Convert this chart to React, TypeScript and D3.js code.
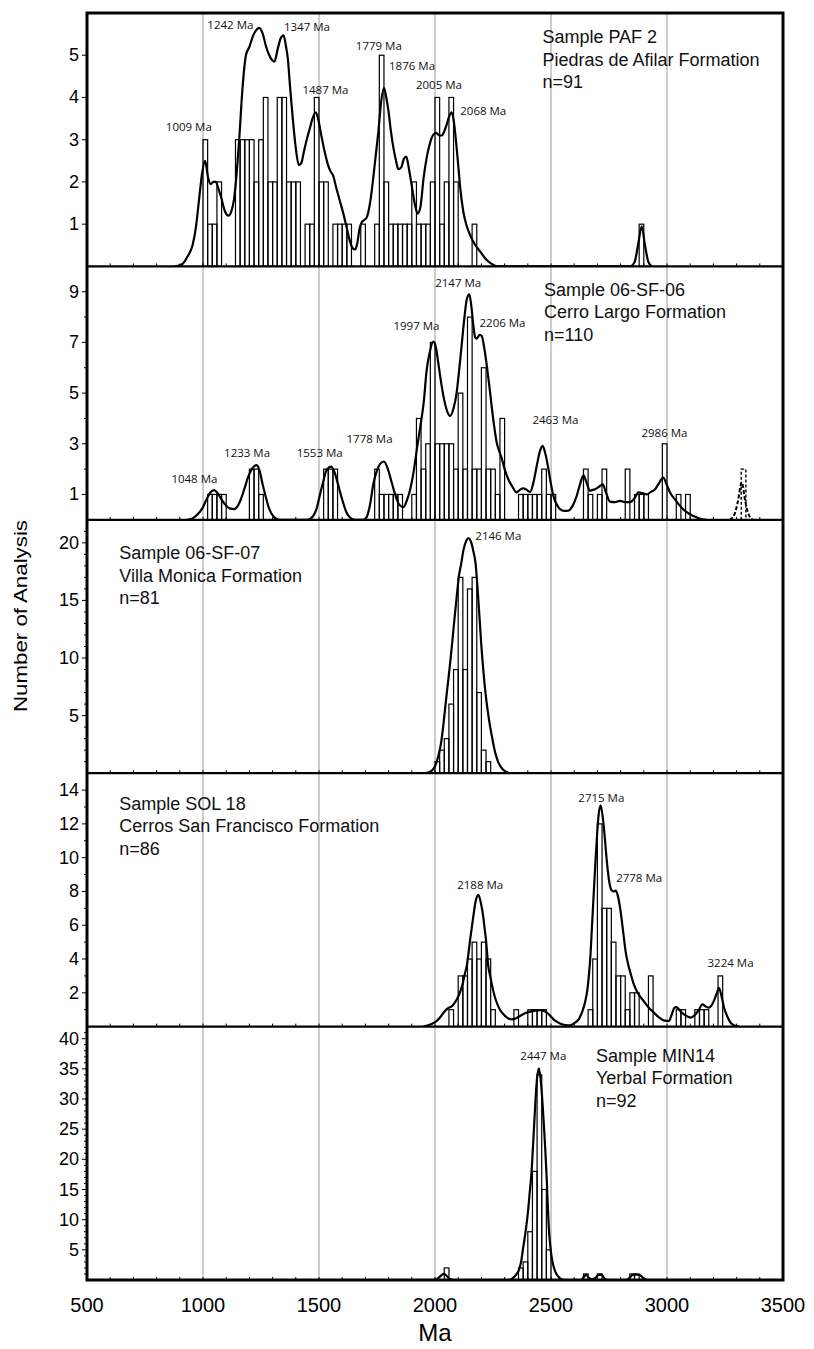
import React from 'react';
import * as d3 from 'd3';

// ---- data ----
const BIN = 20; // Ma per histogram bar

const sampleNames = ['Sample PAF 2', 'Sample 06-SF-06', 'Sample 06-SF-07', 'Sample SOL 18', 'Sample MIN14'];
const formations = [
  'Piedras de Afilar Formation',
  'Cerro Largo Formation',
  'Villa Monica Formation',
  'Cerros San Francisco Formation',
  'Yerbal Formation',
];
const sampleSizes = [91, 110, 81, 86, 92];
const yMaxes = [6, 10, 22, 15, 42];
const yLabelTicks = [
  [1, 2, 3, 4, 5],
  [1, 3, 5, 7, 9],
  [5, 10, 15, 20],
  [2, 4, 6, 8, 10, 12, 14],
  [5, 10, 15, 20, 25, 30, 35, 40],
];
const xTickLabels = [500, 1000, 1500, 2000, 2500, 3000, 3500];
const gridAges = [1000, 1500, 2000, 2500, 3000];

// histogram bars: [bin start (Ma), count]
const barsPAF2 = [
  [1000, 3], [1020, 1], [1040, 1], [1060, 2],
  [1140, 3], [1160, 3], [1180, 3], [1200, 3], [1220, 2], [1240, 3], [1260, 4], [1280, 2], [1300, 2],
  [1320, 4], [1340, 4], [1360, 2], [1380, 2], [1400, 2], [1440, 1], [1460, 1], [1480, 4], [1500, 2],
  [1520, 2], [1560, 1], [1580, 1], [1600, 1], [1620, 1], [1680, 1], [1740, 1], [1760, 5], [1780, 2],
  [1800, 1], [1820, 1], [1840, 1], [1860, 1], [1880, 1], [1900, 2], [1920, 1], [1940, 1], [1960, 1],
  [1980, 2], [2000, 4], [2020, 1], [2040, 2], [2060, 4], [2080, 2], [2160, 1], [2880, 1],
];
const bars06SF06 = [
  [1020, 1], [1040, 1], [1060, 1], [1080, 1],
  [1200, 2], [1220, 2], [1240, 1],
  [1520, 2], [1540, 2], [1560, 2],
  [1740, 2], [1760, 1], [1780, 1], [1800, 1], [1820, 1], [1840, 1],
  [1900, 1], [1920, 4], [1940, 2], [1960, 3], [1980, 7], [2000, 3], [2020, 3], [2040, 3], [2060, 3],
  [2080, 2], [2100, 5], [2120, 2], [2140, 8], [2160, 2], [2180, 2], [2200, 6], [2220, 2], [2240, 2],
  [2260, 1], [2280, 4],
  [2360, 1], [2380, 1], [2400, 1], [2420, 1], [2440, 1], [2460, 2], [2480, 1], [2500, 1],
  [2640, 2], [2660, 1], [2700, 1], [2720, 2], [2820, 2], [2860, 1], [2880, 1], [2900, 1], [2980, 3],
  [3040, 1], [3080, 1],
];
const bars06SF06Dashed = [[3320, 2]];
const bars06SF07 = [
  [2000, 1], [2020, 2], [2040, 3], [2060, 6], [2080, 9], [2100, 17], [2120, 9], [2140, 16],
  [2160, 17], [2180, 7], [2200, 2], [2220, 1],
];
const barsSOL18 = [
  [2060, 1], [2100, 3], [2120, 3], [2140, 4], [2160, 5], [2180, 4], [2200, 5], [2220, 4], [2240, 1],
  [2340, 1], [2400, 1], [2420, 1], [2440, 1], [2460, 1],
  [2660, 1], [2680, 4], [2700, 12], [2720, 7], [2740, 7], [2760, 5], [2780, 3], [2800, 3], [2820, 1],
  [2840, 2], [2860, 2], [2920, 3], [3040, 1], [3060, 1], [3120, 1], [3140, 1], [3160, 1], [3220, 3],
];
const barsMIN14 = [
  [2040, 2], [2360, 2], [2380, 3], [2400, 8], [2420, 18], [2440, 34], [2460, 15], [2480, 5],
  [2640, 1], [2700, 1], [2840, 1], [2860, 1],
];

// probability density curves: [Ma, value]
const curvePAF2 = [
  [880, 0], [910, 0.05], [935, 0.25], [955, 0.5], [970, 0.95], [983, 1.58], [996, 2.2], [1009, 2.5],
  [1022, 2.1], [1033, 1.95], [1045, 2.0], [1055, 2.0], [1066, 1.85], [1077, 1.66], [1095, 1.3],
  [1110, 1.2], [1122, 1.3], [1134, 1.6], [1145, 2.2], [1156, 3.0], [1170, 4.2], [1185, 5.0],
  [1200, 5.2], [1215, 5.45], [1243, 5.65], [1258, 5.5], [1272, 5.2], [1290, 4.95], [1308, 4.85],
  [1322, 5.15], [1335, 5.4], [1347, 5.47], [1358, 5.2], [1366, 4.9], [1376, 4.2], [1387, 3.5],
  [1400, 2.8], [1413, 2.4], [1424, 2.45], [1434, 2.69], [1447, 3.0], [1459, 3.24], [1472, 3.5],
  [1486, 3.65], [1498, 3.45], [1510, 3.1], [1525, 2.7], [1539, 2.4], [1550, 2.25], [1561, 2.15],
  [1575, 1.85], [1590, 1.55], [1605, 1.25], [1618, 0.95], [1633, 0.6], [1647, 0.42], [1656, 0.4],
  [1665, 0.55], [1675, 0.9], [1685, 1.05], [1695, 1.1], [1705, 1.15], [1720, 1.5], [1734, 2.1],
  [1746, 2.7], [1756, 3.2], [1768, 3.9], [1780, 4.23], [1790, 4.0], [1799, 3.7], [1810, 3.2],
  [1821, 2.8], [1832, 2.5], [1842, 2.3], [1855, 2.35], [1866, 2.55], [1876, 2.6], [1888, 2.3],
  [1900, 1.9], [1912, 1.5], [1925, 1.25], [1937, 1.4], [1951, 2.1], [1965, 2.6], [1980, 2.95],
  [1993, 3.12], [2006, 3.16], [2018, 3.1], [2029, 3.1], [2040, 3.2], [2050, 3.35], [2061, 3.55],
  [2072, 3.65], [2082, 3.4], [2090, 3.0], [2100, 2.4], [2108, 1.9], [2122, 1.3], [2137, 0.95],
  [2155, 0.7], [2172, 0.52], [2195, 0.35], [2223, 0.15], [2250, 0.04], [2270, 0],
  [2840, 0], [2860, 0.1], [2875, 0.5], [2891, 0.95], [2905, 0.5], [2920, 0.1], [2935, 0],
];
const curve06SF06 = [
  [930, 0], [954, 0.05], [975, 0.2], [997, 0.45], [1015, 0.8], [1032, 1.08], [1048, 1.17], [1063, 1.05],
  [1080, 0.8], [1098, 0.58], [1115, 0.45], [1134, 0.42], [1150, 0.55], [1165, 0.85], [1178, 1.21],
  [1195, 1.7], [1214, 2.05], [1231, 2.16], [1245, 1.9], [1257, 1.4], [1272, 0.85], [1286, 0.42],
  [1305, 0.12], [1329, 0],
  [1450, 0], [1475, 0.15], [1490, 0.45], [1503, 0.95], [1518, 1.5], [1532, 1.95], [1553, 2.1],
  [1568, 1.85], [1582, 1.4], [1600, 0.8], [1618, 0.3], [1635, 0.08], [1655, 0],
  [1690, 0], [1705, 0.1], [1720, 0.6], [1734, 1.4], [1750, 1.95], [1763, 2.2], [1780, 2.3],
  [1797, 2.0], [1814, 1.45], [1830, 0.95], [1847, 0.58], [1864, 0.5], [1880, 0.8], [1893, 1.2],
  [1908, 1.9], [1922, 2.8], [1937, 3.7], [1951, 4.6], [1964, 5.9], [1977, 6.6], [1993, 7.03],
  [2004, 6.8], [2014, 6.2], [2025, 5.5], [2036, 4.9], [2050, 4.35], [2065, 4.1], [2080, 4.4],
  [2093, 5.0], [2104, 5.9], [2115, 6.9], [2127, 8.0], [2137, 8.7], [2148, 8.9], [2157, 8.4],
  [2165, 7.7], [2173, 7.2], [2180, 7.15], [2192, 7.3], [2201, 7.26], [2212, 6.8], [2223, 6.1],
  [2234, 5.3], [2244, 4.5], [2255, 3.7], [2266, 3.05], [2277, 2.7], [2287, 2.45], [2300, 2.0],
  [2316, 1.6], [2334, 1.3], [2352, 1.08], [2366, 1.18], [2381, 1.24], [2396, 1.18], [2410, 1.1],
  [2425, 1.5], [2438, 2.1], [2452, 2.7], [2464, 2.92], [2476, 2.6], [2489, 2.0], [2500, 1.4],
  [2510, 0.95], [2525, 0.6], [2539, 0.42], [2557, 0.35], [2575, 0.36], [2593, 0.55], [2611, 0.95],
  [2625, 1.4], [2640, 1.75], [2654, 1.45], [2668, 1.14], [2680, 1.18], [2690, 1.21], [2706, 1.3],
  [2723, 1.4], [2738, 1.05], [2754, 0.72], [2775, 0.7], [2797, 0.75], [2820, 0.7], [2841, 0.7],
  [2860, 0.85], [2877, 1.08], [2895, 1.05], [2913, 1.0], [2930, 1.1], [2948, 1.2], [2966, 1.45],
  [2984, 1.67], [2998, 1.4], [3013, 1.08], [3035, 0.8], [3056, 0.55], [3085, 0.3], [3114, 0.15],
  [3140, 0.05], [3171, 0],
];
const curve06SF06Dashed = [
  [3270, 0], [3290, 0.2], [3305, 0.7], [3322, 1.47], [3338, 0.7], [3352, 0.2], [3370, 0],
];
const curve06SF07 = [
  [1960, 0], [1985, 0.2], [2000, 0.6], [2013, 1.4], [2026, 2.6], [2035, 4.0], [2043, 5.5], [2051, 7.0],
  [2059, 8.4], [2067, 9.9], [2074, 11.3], [2081, 12.8], [2088, 14.2], [2096, 15.8], [2103, 17.1],
  [2113, 18.2], [2122, 19.3], [2133, 20.1], [2144, 20.4], [2155, 20.1], [2165, 19.3], [2175, 18.2],
  [2185, 15.6], [2192, 13.5], [2199, 11.3], [2208, 9.0], [2218, 6.9], [2228, 5.3], [2238, 4.0],
  [2248, 2.9], [2257, 2.0], [2270, 1.1], [2285, 0.5], [2300, 0.2], [2320, 0],
];
const curveSOL18 = [
  [1950, 0], [1985, 0.15], [2007, 0.33], [2025, 0.6], [2043, 0.93], [2058, 1.1], [2072, 1.2],
  [2087, 1.45], [2101, 1.8], [2112, 2.2], [2122, 2.7], [2130, 3.2], [2137, 3.6], [2144, 4.3],
  [2151, 5.1], [2158, 5.8], [2165, 6.5], [2175, 7.4], [2187, 7.8], [2198, 7.3], [2208, 6.5],
  [2214, 5.8], [2220, 5.1], [2225, 4.3], [2230, 3.55], [2238, 3.0], [2245, 2.5], [2255, 1.9],
  [2264, 1.5], [2280, 1.0], [2295, 0.73], [2312, 0.52], [2331, 0.43], [2350, 0.5], [2367, 0.63],
  [2390, 0.8], [2410, 0.89], [2432, 0.95], [2454, 0.97], [2470, 0.92], [2482, 0.83], [2496, 0.65],
  [2511, 0.43], [2530, 0.25], [2547, 0.14], [2565, 0.09], [2583, 0.08], [2600, 0.2], [2619, 0.43],
  [2634, 0.85], [2648, 1.52], [2657, 2.2], [2665, 3.3], [2670, 4.2], [2675, 5.5], [2680, 6.8],
  [2685, 8.1], [2691, 9.6], [2697, 11.0], [2705, 12.5], [2714, 13.1], [2724, 12.3], [2733, 11.0],
  [2742, 9.6], [2752, 8.5], [2760, 8.1], [2770, 8.0], [2779, 8.05], [2787, 7.8], [2797, 7.1],
  [2805, 6.3], [2812, 5.5], [2821, 4.5], [2829, 3.9], [2844, 3.1], [2857, 2.5], [2878, 1.9],
  [2900, 1.5], [2920, 1.15], [2943, 0.83], [2965, 0.55], [2986, 0.37], [3008, 0.33], [3020, 0.7],
  [3032, 1.12], [3042, 1.15], [3051, 1.02], [3062, 0.85], [3073, 0.73], [3088, 0.6], [3102, 0.53],
  [3113, 0.6], [3123, 0.73], [3138, 1.0], [3152, 1.32], [3166, 1.2], [3181, 1.12], [3192, 1.25],
  [3202, 1.52], [3214, 1.95], [3224, 2.3], [3235, 1.8], [3246, 1.12], [3260, 0.6], [3274, 0.24],
  [3290, 0.07], [3310, 0],
];
const curveMIN14 = [
  [1990, 0], [2010, 0.2], [2025, 0.7], [2038, 1.0], [2050, 0.7], [2062, 0.2], [2080, 0],
  [2320, 0], [2335, 0.3], [2350, 0.9], [2363, 1.8], [2372, 3.2], [2381, 5.6], [2389, 7.6],
  [2397, 10.0], [2403, 12.2], [2408, 14.4], [2413, 16.4], [2418, 19.0], [2422, 21.9], [2427, 25.4],
  [2432, 29.0], [2440, 33.5], [2448, 35.1], [2456, 33.0], [2464, 29.0], [2470, 25.2], [2475, 21.9],
  [2482, 16.4], [2486, 12.5], [2491, 8.4], [2496, 6.0], [2502, 4.0], [2510, 2.4], [2520, 1.26],
  [2532, 0.55], [2543, 0.16], [2560, 0],
  [2630, 0], [2640, 0.4], [2652, 0.9], [2662, 0.4], [2675, 0.1], [2690, 0.3], [2705, 0.85],
  [2718, 0.9], [2730, 0.3], [2745, 0],
  [2825, 0], [2840, 0.4], [2852, 0.85], [2870, 0.9], [2885, 0.8], [2898, 0.3], [2912, 0],
];

// peak annotations: [age text, label centre (Ma), label centre (count)]
const peaksPAF2 = [
  [1009, 939, 3.31], [1242, 1118, 5.72], [1347, 1448, 5.68], [1487, 1528, 4.2],
  [1779, 1758, 5.24], [1876, 1901, 4.75], [2005, 2017, 4.3], [2068, 2208, 3.7],
];
const peaks06SF06 = [
  [1048, 963, 1.64], [1233, 1190, 2.66], [1553, 1503, 2.66], [1778, 1718, 3.19], [1997, 1920, 7.65],
  [2147, 2100, 9.36], [2206, 2291, 7.79], [2463, 2519, 3.94], [2986, 2989, 3.45],
];
const peaks06SF07 = [[2146, 2273, 20.68]];
const peaksSOL18 = [[2715, 2717, 13.58], [2188, 2195, 8.44], [2778, 2880, 8.82], [3224, 3274, 3.78]];
const peaksMIN14 = [[2447, 2467, 37.18]];

const panelBars = [barsPAF2, bars06SF06, bars06SF07, barsSOL18, barsMIN14];
const panelCurves = [curvePAF2, curve06SF06, curve06SF07, curveSOL18, curveMIN14];
const panelPeaks = [peaksPAF2, peaks06SF06, peaks06SF07, peaksSOL18, peaksMIN14];

// ---- layout ----
const W = 814;
const H = 1349;
const left = 87;
const right = 783;
const top = 13;
const panelH = 253.4;
// where each sample caption starts (Ma) and its first line offset from the panel top
const captionAt = [
  { age: 2463, dy: 24 },
  { age: 2470, dy: 23 },
  { age: 639, dy: 33 },
  { age: 639, dy: 30 },
  { age: 2694, dy: 29 },
];

const sans = '"Liberation Sans", Arial, Helvetica, sans-serif';
const peakFont = '"Open Sans", "Liberation Sans", sans-serif';

const App = () => {
  const x = d3.scaleLinear().domain([500, 3500]).range([left, right]);
  const bottom = top + panelH * 5;
  const minorX = d3.range(600, 3500, 100);

  const panels = yMaxes.map((ymax, i) => {
    const y0 = top + panelH * (i + 1);
    const y = d3.scaleLinear().domain([0, ymax]).range([y0, y0 - panelH]);
    const line = d3
      .line<number[]>()
      .x((d) => x(d[0]))
      .y((d) => y(d[1]))
      .curve(d3.curveMonotoneX);
    return { i, y, y0, line };
  });

  return (
    <svg
      width={W}
      height={H}
      style={{ position: 'absolute', left: 0, top: 0, background: '#fff' }}
      fontFamily={sans}
    >
      <defs>
        {panels.map((p) => (
          <clipPath id={`clip${p.i}`} key={p.i}>
            <rect x={left} y={p.y0 - panelH} width={right - left} height={panelH} />
          </clipPath>
        ))}
      </defs>

      {/* vertical grid */}
      {gridAges.map((a) => (
        <line key={a} x1={x(a)} x2={x(a)} y1={top} y2={bottom} stroke="#9a9a9a" strokeWidth={1} />
      ))}

      {panels.map((p) => {
        const { i, y, y0, line } = p;
        const ticks = d3.range(1, yMaxes[i]);
        return (
          <g key={i}>
            <g clipPath={`url(#clip${i})`}>
              {panelBars[i].map(([b, c]) => (
                <rect
                  key={b}
                  x={x(b)}
                  y={y(c)}
                  width={x(b + BIN) - x(b)}
                  height={y0 - y(c)}
                  fill="none"
                  stroke="#000"
                  strokeWidth={1.2}
                />
              ))}
              {i === 1 &&
                bars06SF06Dashed.map(([b, c]) => (
                  <rect
                    key={b}
                    x={x(b)}
                    y={y(c)}
                    width={x(b + BIN) - x(b)}
                    height={y0 - y(c)}
                    fill="none"
                    stroke="#000"
                    strokeWidth={1.4}
                    strokeDasharray="3,2"
                  />
                ))}
              <path d={line(panelCurves[i] as number[][]) || ''} fill="none" stroke="#000" strokeWidth={2.2} />
              {i === 1 && (
                <path
                  d={line(curve06SF06Dashed as number[][]) || ''}
                  fill="none"
                  stroke="#000"
                  strokeWidth={2}
                  strokeDasharray="4,2"
                />
              )}
            </g>

            {/* baseline ticks every 100 Ma */}
            {minorX.map((a) => (
              <line key={a} x1={x(a)} x2={x(a)} y1={y0} y2={y0 - 3} stroke="#000" strokeWidth={1} />
            ))}

            {/* y ticks */}
            {ticks.map((t) => {
              const major = yLabelTicks[i].includes(t);
              return (
                <line
                  key={t}
                  x1={left}
                  x2={left - (major ? 5 : 3)}
                  y1={y(t)}
                  y2={y(t)}
                  stroke="#000"
                  strokeWidth={1}
                />
              );
            })}
            {yLabelTicks[i].map((t) => (
              <text key={t} x={left - 8} y={y(t)} textAnchor="end" dominantBaseline="central" fontSize={18}>
                {t}
              </text>
            ))}

            {/* panel separator */}
            <line x1={left} x2={right} y1={y0} y2={y0} stroke="#000" strokeWidth={2.2} />

            {/* peak labels */}
            {panelPeaks[i].map(([age, ax, ay]) => (
              <text
                key={age}
                x={x(ax)}
                y={y(ay)}
                textAnchor="middle"
                dominantBaseline="central"
                fontSize={11.5}
                fontFamily={peakFont}
                fill="#111"
              >
                {`${age} Ma`}
              </text>
            ))}

            {/* sample caption */}
            <text x={x(captionAt[i].age)} y={y0 - panelH + captionAt[i].dy} fontSize={18} fill="#111">
              {[sampleNames[i], formations[i], `n=${sampleSizes[i]}`].map((s, k) => (
                <tspan key={k} x={x(captionAt[i].age)} dy={k === 0 ? '0.35em' : 22.5}>
                  {s}
                </tspan>
              ))}
            </text>
          </g>
        );
      })}

      {/* outer frame */}
      <rect x={left} y={top} width={right - left} height={bottom - top} fill="none" stroke="#000" strokeWidth={3} />

      {/* x axis labels */}
      {xTickLabels.map((a) => (
        <text key={a} x={x(a)} y={bottom + 25} textAnchor="middle" dominantBaseline="central" fontSize={20}>
          {a}
        </text>
      ))}
      <text x={(left + right) / 2} y={bottom + 52} textAnchor="middle" dominantBaseline="central" fontSize={24}>
        Ma
      </text>
      <text
        transform={`translate(20,616) rotate(-90)`}
        textAnchor="middle"
        dominantBaseline="central"
        fontSize={19}
        textLength={192}
        lengthAdjust="spacingAndGlyphs"
      >
        Number of Analysis
      </text>
    </svg>
  );
};

export default App;
